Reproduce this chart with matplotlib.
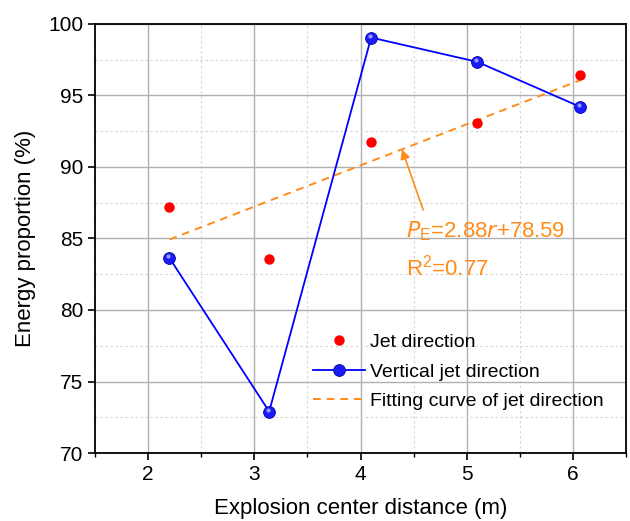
import numpy as np
import matplotlib.pyplot as plt
import matplotlib.transforms as mtransforms
from matplotlib.ticker import MultipleLocator

plt.rcParams['font.family'] = ['Liberation Sans', 'DejaVu Sans']

# Data
distance = [2.2, 3.14, 4.1, 5.1, 6.07]
jet_dir = [87.2, 83.6, 91.75, 93.1, 96.4]
vert_jet_dir = [83.65, 72.9, 99.05, 97.35, 94.2]
fit_slope = 2.88
fit_icpt = 78.59
r2 = 0.77

orange = '#FF8C1A'

fig = plt.figure(figsize=(6.3, 5.21), dpi=100)
ax = fig.add_axes([0.1508, 0.1305, 0.8429, 0.8235])

ax.plot(distance, vert_jet_dir, color='#0000FF', lw=1.3, marker='o', ms=8.5,
        mfc='#1a1aff', mec='#0000a0', mew=0.6, label='Vertical jet direction', zorder=4)
# little highlight on the blue balls
hl = ax.transData + mtransforms.ScaledTranslation(-0.015, 0.015, fig.dpi_scale_trans)
ax.plot(distance, vert_jet_dir, 'o', ms=3, mfc='#9a9aff', mec='none', transform=hl, zorder=4.5)
ax.plot(distance, jet_dir, 'o', color='#FF0000', ms=7.5, mec='none',
        label='Jet direction', zorder=5)

# fitted line
xf = np.array([distance[0], distance[-1]])
ax.plot(xf, fit_slope * xf + fit_icpt, '--', color=orange, lw=1.4, dashes=(4, 3),
        label='Fitting curve of jet direction', zorder=3)

ax.annotate('', xy=(4.39, fit_slope * 4.39 + fit_icpt), xytext=(4.59, 87.0),
            arrowprops=dict(arrowstyle='-|>', color=orange, lw=1.2,
                            mutation_scale=14, shrinkA=0, shrinkB=0))
ax.text(4.43, 85.5, r'$\it{P}$$_\mathregular{E}$=2.88$\it{r}$+78.59', color=orange,
        fontsize=16, va='center', ha='left')
ax.text(4.43, 82.95, 'R$^\mathregular{2}$=0.77', color=orange, fontsize=16,
        va='center', ha='left')

ax.set_xlim(1.5, 6.5)
ax.set_ylim(70, 100)
ax.xaxis.set_major_locator(MultipleLocator(1))
ax.xaxis.set_minor_locator(MultipleLocator(0.5))
ax.yaxis.set_major_locator(MultipleLocator(5))
ax.yaxis.set_minor_locator(MultipleLocator(2.5))
ax.grid(which='major', color='#b0b0b0', lw=1.0)
ax.grid(which='minor', color='#d8d8d8', lw=0.9, ls=(0, (2, 2)))
ax.set_axisbelow(True)
ax.tick_params(which='major', direction='out', length=5, width=1.2, labelsize=15)
ax.tick_params(axis='x', which='minor', direction='out', length=3, width=1.0)
ax.tick_params(axis='y', which='minor', length=0)
for s in ax.spines.values():
    s.set_linewidth(1.3)

ax.set_xlabel('Explosion center distance (m)', fontsize=16, labelpad=10)
ax.set_ylabel('Energy proportion (%)', fontsize=16, labelpad=9)

h, l = ax.get_legend_handles_labels()
order = [1, 0, 2]
ax.legend([h[i] for i in order], [l[i] for i in order], loc='upper left',
          bbox_to_anchor=(0.384, 0.31), frameon=False, fontsize=14,
          handlelength=2.7, handletextpad=0.25, borderpad=0.2, labelspacing=0.6)

fig.savefig('out.png', dpi=100)
